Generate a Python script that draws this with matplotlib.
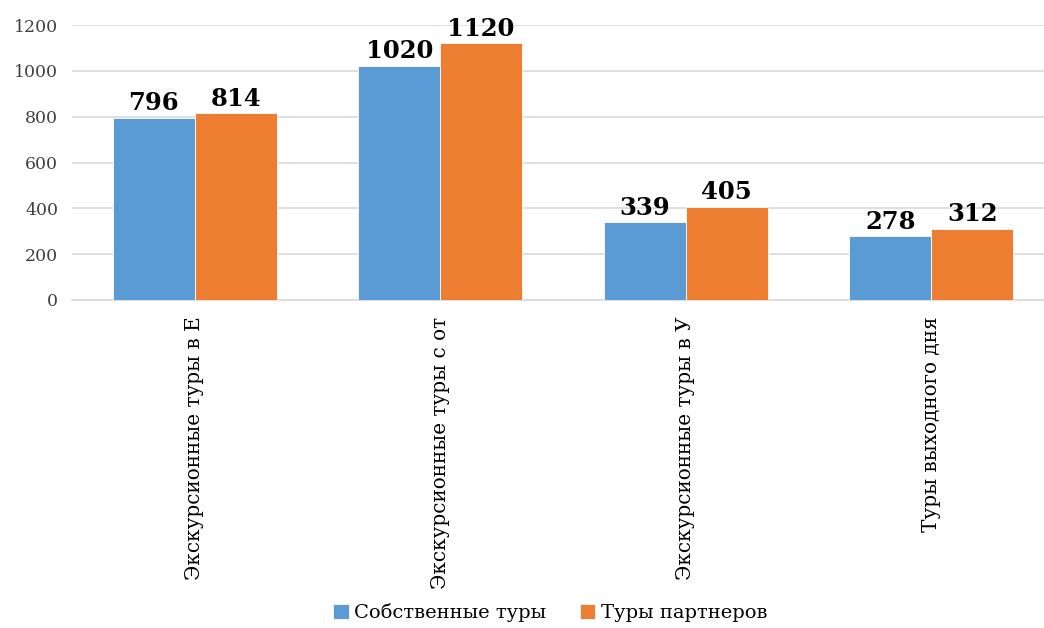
import matplotlib
matplotlib.use('Agg')
import matplotlib.pyplot as plt
import numpy as np

plt.rcParams['font.family'] = ['DejaVu Serif']

categories = ['Экскурсионные туры в Е',
              'Экскурсионные туры с от',
              'Экскурсионные туры в У',
              'Туры выходного дня']
own_tours = [796, 1020, 339, 278]
partner_tours = [814, 1120, 405, 312]
series_names = ['Собственные туры', 'Туры партнеров']
yticks = [0, 200, 400, 600, 800, 1000, 1200]

BLUE = '#5b9bd5'
ORANGE = '#ed7d31'

fig = plt.figure(figsize=(10.44, 6.28), dpi=100)
# plot area runs slightly past the right edge of the canvas
ax = fig.add_axes([72 / 1044, 1 - 300 / 628, 982 / 1044, 275 / 628])

x = np.arange(len(categories))
width = 0.333

b1 = ax.bar(x - width / 2, own_tours, width, color=BLUE, edgecolor='white',
            linewidth=0.6, label=series_names[0], zorder=3)
b2 = ax.bar(x + width / 2, partner_tours, width, color=ORANGE, edgecolor='white',
            linewidth=0.6, label=series_names[1], zorder=3)

for bars in (b1, b2):
    for rect in bars:
        h = rect.get_height()
        ax.annotate(f'{h:.0f}', (rect.get_x() + rect.get_width() / 2, h),
                    xytext=(0, 2), textcoords='offset points',
                    ha='center', va='bottom', fontsize=17.5, fontweight='bold')

ax.set_xlim(-0.5, 3.5)
ax.set_ylim(0, 1200)
ax.set_yticks(yticks)
ax.set_xticks(x)
ax.set_xticklabels(categories, rotation=90, fontsize=14.4)
ax.tick_params(axis='x', length=0, pad=12)
ax.tick_params(axis='y', length=0, pad=10, labelsize=12.5)
for lbl in ax.get_yticklabels():
    lbl.set_color('#404040')

ax.grid(axis='y', color='#d9d9d9', linewidth=1.2, zorder=0)
for side in ('top', 'right', 'left'):
    ax.spines[side].set_visible(False)
ax.spines['bottom'].set_color('#d9d9d9')
ax.spines['bottom'].set_linewidth(1.2)

fig.legend(handles=[b1, b2], labels=series_names, loc='center',
           bbox_to_anchor=(0.527, 1 - 613 / 628), ncol=2, frameon=False,
           fontsize=14, handlelength=0.8, handleheight=0.8,
           handletextpad=0.3, columnspacing=1.7)

fig.savefig('out.png', dpi=100)
